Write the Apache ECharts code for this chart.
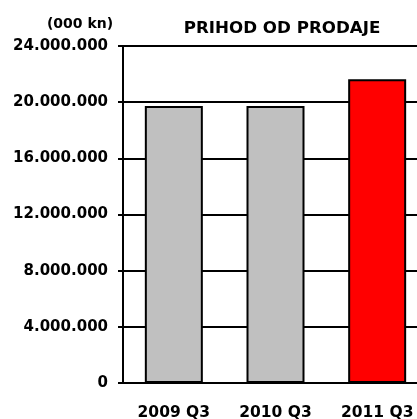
<!DOCTYPE html>
<html>
<head>
<meta charset="utf-8">
<script src="https://cdn.jsdelivr.net/npm/echarts@6/dist/echarts.min.js"></script>
<style>
  html, body { margin: 0; padding: 0; background: #fff; overflow: hidden; }
  #chart { width: 440px; height: 440px; }
</style>
</head>
<body>
<div id="chart"></div>
<script>
  var categories = ['2009 Q3', '2010 Q3', '2011 Q3'];
  var values = [19730000, 19730000, 21630000];
  var barColors = ['#c0c0c0', '#c0c0c0', '#ff0000'];

  var FONT = 'DejaVu Sans';

  function fmt(v) {
    return String(v).replace(/\B(?=(\d{3})+(?!\d))/g, '.');
  }

  var chart = echarts.init(document.getElementById('chart'));
  var barData = [];
  for (var i = 0; i < values.length; i++) {
    barData.push({ value: values[i], itemStyle: { color: barColors[i] } });
  }

  var option = {
    animation: false,
    title: [
      {
        text: 'PRIHOD OD PRODAJE',
        left: 277, top: 15, textAlign: 'center',
        textStyle: { fontFamily: FONT, fontSize: 16.7, fontWeight: 'bold', color: '#000' }
      },
      {
        text: '(000 kn)',
        left: 75, top: 12, textAlign: 'center',
        textStyle: { fontFamily: FONT, fontSize: 14, fontWeight: 'bold', color: '#000' }
      }
    ],
    grid: { left: 123, top: 46, width: 305, height: 337, containLabel: false, outerBoundsMode: 'none' },
    xAxis: {
      type: 'category',
      data: categories,
      boundaryGap: true,
      axisLine: { lineStyle: { color: '#000', width: 2 } },
      axisTick: { length: 8, lineStyle: { color: '#000', width: 2 } },
      axisLabel: { margin: 22, fontFamily: FONT, fontSize: 15.5, fontWeight: 'bold', color: '#000' }
    },
    yAxis: {
      type: 'value',
      min: 0, max: 24000000, interval: 4000000,
      axisLine: { show: true, lineStyle: { color: '#000', width: 2 } },
      axisTick: { show: true, length: 5, lineStyle: { color: '#000', width: 2 } },
      splitLine: { lineStyle: { color: '#000', width: 2 } },
      axisLabel: {
        margin: 15, fontFamily: FONT, fontSize: 15, fontWeight: 'bold', color: '#000',
        formatter: fmt
      }
    },
    series: [{
      type: 'bar',
      data: barData,
      barWidth: 58,
      itemStyle: { borderColor: '#000', borderWidth: 2 }
    }]
  };
  chart.setOption(option);
</script>
</body>
</html>
